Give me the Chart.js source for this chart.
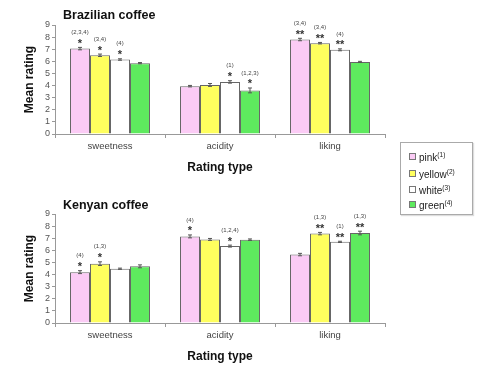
<!DOCTYPE html>
<html>
<head>
<meta charset="utf-8">
<script src="https://cdn.jsdelivr.net/npm/chart.js@4/dist/chart.umd.min.js"></script>
<style>
  html, body { margin: 0; padding: 0; background: #fff; }
  #wrap { position: relative; width: 481px; height: 370px; overflow: hidden; font-family: "Liberation Sans", Arial, sans-serif; }
  .panel { position: absolute; left: 0; width: 400px; height: 185px; }
  .panel canvas { position: absolute; left: 0; top: 0; }
  .ptitle { position: absolute; left: 63px; font-weight: bold; font-size: 12.5px; color: #111; line-height: 14px; }
  #legend { position: absolute; left: 400px; top: 142px; width: 71px; height: 71px; border: 1px solid #aaa; box-shadow: 1px 1px 1px #ddd; }
  .item { position: absolute; left: 8px; font-size: 10px; color: #222; line-height: 12px; white-space: nowrap; }
  .item i { display: inline-block; width: 5px; height: 5px; border: 1px solid #777; margin-right: 3px; vertical-align: 1px; }
  .item sup { font-size: 6.5px; vertical-align: 4px; line-height: 0; }
</style>
</head>
<body>
<div id="wrap">
  <div class="panel" style="top:0">
    <canvas id="brazil" width="400" height="185"></canvas>
    <div class="ptitle" style="top:8px">Brazilian coffee</div>
  </div>
  <div class="panel" style="top:189px">
    <canvas id="kenya" width="400" height="185"></canvas>
    <div class="ptitle" style="top:9px">Kenyan coffee</div>
  </div>
  <div id="legend"></div>
</div>
<script>
// ===== DATA =====
const categories = ['sweetness', 'acidity', 'liking'];
const seriesNames = ['pink', 'yellow', 'white', 'green'];
const seriesColors = ['#fbcbf5', '#ffff5e', '#ffffff', '#5eea5e'];
const yTicks = [0, 1, 2, 3, 4, 5, 6, 7, 8, 9];

// Brazilian coffee
const brazilPink = [7.05, 3.95, 7.8];
const brazilYellow = [6.5, 4.05, 7.5];
const brazilWhite = [6.15, 4.3, 6.95];
const brazilGreen = [5.85, 3.6, 5.95];
const brazilPinkErr = [0.1, 0.06, 0.1];
const brazilYellowErr = [0.1, 0.12, 0.06];
const brazilWhiteErr = [0.06, 0.1, 0.08];
const brazilGreenErr = [0.05, 0.2, 0.05];
const brazilPinkSig = ['(2,3,4)', '', '(3,4)'];
const brazilYellowSig = ['(3,4)', '', '(3,4)'];
const brazilWhiteSig = ['(4)', '(1)', '(4)'];
const brazilGreenSig = ['', '(1,2,3)', ''];
const brazilPinkStars = ['*', '', '**'];
const brazilYellowStars = ['*', '', '**'];
const brazilWhiteStars = ['*', '*', '**'];
const brazilGreenStars = ['', '*', ''];

// Kenyan coffee
const kenyaPink = [4.2, 7.15, 5.65];
const kenyaYellow = [4.9, 6.9, 7.38];
const kenyaWhite = [4.48, 6.35, 6.7];
const kenyaGreen = [4.68, 6.88, 7.43];
const kenyaPinkErr = [0.12, 0.12, 0.1];
const kenyaYellowErr = [0.15, 0.08, 0.1];
const kenyaWhiteErr = [0.05, 0.08, 0.05];
const kenyaGreenErr = [0.12, 0.06, 0.15];
const kenyaPinkSig = ['(4)', '(4)', ''];
const kenyaYellowSig = ['(1,3)', '', '(1,3)'];
const kenyaWhiteSig = ['', '(1,2,4)', '(1)'];
const kenyaGreenSig = ['', '', '(1,3)'];
const kenyaPinkStars = ['*', '*', ''];
const kenyaYellowStars = ['*', '', '**'];
const kenyaWhiteStars = ['', '*', '**'];
const kenyaGreenStars = ['', '', '**'];

// ===== LEGEND (html) =====
const legendEl = document.getElementById('legend');
const legendTops = [9, 26, 42, 57];
seriesNames.forEach((name, i) => {
    const div = document.createElement('div');
    div.className = 'item';
    div.style.top = legendTops[i] + 'px';
    div.innerHTML = '<i style="background:' + seriesColors[i] + '"></i>' + name + '<sup>(' + (i + 1) + ')</sup>';
    legendEl.appendChild(div);
});

// ===== ERROR BARS + SIGNIFICANCE MARKS =====
const markPlugin = {
    id: 'marks',
    afterDatasetsDraw(chart) {
        const ctx = chart.ctx;
        const yScale = chart.scales.y;
        chart.data.datasets.forEach((ds, i) => {
            const meta = chart.getDatasetMeta(i);
            meta.data.forEach((bar, j) => {
                const v = ds.data[j];
                const e = ds.errors[j];
                const yTop = yScale.getPixelForValue(v + e);
                const yBot = yScale.getPixelForValue(v - e);
                ctx.save();
                ctx.strokeStyle = '#555';
                ctx.lineWidth = 1;
                ctx.beginPath();
                ctx.moveTo(bar.x, yTop);
                ctx.lineTo(bar.x, yBot);
                ctx.moveTo(bar.x - 2, yTop);
                ctx.lineTo(bar.x + 2, yTop);
                ctx.moveTo(bar.x - 2, yBot);
                ctx.lineTo(bar.x + 2, yBot);
                ctx.stroke();

                ctx.textAlign = 'center';
                ctx.fillStyle = '#333';
                if (ds.stars[j]) {
                    // centre the asterisks about 6px above the error cap
                    ctx.font = 'bold 11px "Liberation Sans", Arial, sans-serif';
                    ctx.textBaseline = 'alphabetic';
                    const m = ctx.measureText(ds.stars[j]);
                    const centre = yTop - 6;
                    ctx.fillText(ds.stars[j], bar.x, centre + (m.actualBoundingBoxAscent - m.actualBoundingBoxDescent) / 2);
                }
                if (ds.sig[j]) {
                    ctx.font = '6px "Liberation Sans", Arial, sans-serif';
                    ctx.textBaseline = 'middle';
                    ctx.fillStyle = '#444';
                    ctx.fillText(ds.sig[j], bar.x, yTop - 15);
                }
                ctx.restore();
            });
        });
    }
};

function makeDatasets(values, errors, sigs, stars) {
    return values.map((vals, i) => ({
        label: seriesNames[i],
        data: vals,
        errors: errors[i],
        sig: sigs[i],
        stars: stars[i],
        backgroundColor: seriesColors[i],
        borderColor: '#666',
        borderWidth: 1,
        categoryPercentage: 0.727,
        barPercentage: 1.0
    }));
}

function buildChart(canvasId, datasets) {
    const ctx = document.getElementById(canvasId).getContext('2d');
    return new Chart(ctx, {
        type: 'bar',
        data: { labels: categories, datasets: datasets },
        plugins: [markPlugin],
        options: {
            responsive: false,
            animation: false,
            devicePixelRatio: 1,
            layout: { padding: { left: 18, right: 15, top: 25, bottom: 0 } },
            plugins: {
                legend: { display: false },
                tooltip: { enabled: false },
                title: { display: false }
            },
            scales: {
                x: {
                    afterFit(scale) { scale.height = 51; },
                    grid: { display: true, drawOnChartArea: false, offset: true, tickLength: 4, color: '#999' },
                    border: { color: '#999' },
                    ticks: {
                        color: '#444', padding: 3,
                        font: { family: '"Liberation Sans", Arial, sans-serif', size: 9.5 }
                    },
                    title: {
                        display: true, text: 'Rating type', color: '#111',
                        padding: { top: 4, bottom: 10 },
                        font: { family: '"Liberation Sans", Arial, sans-serif', size: 12, weight: 'bold' }
                    }
                },
                y: {
                    min: yTicks[0],
                    max: yTicks[yTicks.length - 1],
                    afterFit(scale) { scale.width = 37; },
                    afterBuildTicks(scale) { scale.ticks = yTicks.map(v => ({ value: v })); },
                    grid: { display: true, drawOnChartArea: false, tickLength: 3, color: '#999' },
                    border: { color: '#999' },
                    ticks: {
                        color: '#555', padding: 2, autoSkip: false, stepSize: 1,
                        font: { family: '"Liberation Sans", Arial, sans-serif', size: 9 }
                    },
                    title: {
                        display: true, text: 'Mean rating', color: '#111',
                        padding: { top: 4, bottom: 4 },
                        font: { family: '"Liberation Sans", Arial, sans-serif', size: 12, weight: 'bold' }
                    }
                }
            }
        }
    });
}

buildChart('brazil', makeDatasets(
    [brazilPink, brazilYellow, brazilWhite, brazilGreen],
    [brazilPinkErr, brazilYellowErr, brazilWhiteErr, brazilGreenErr],
    [brazilPinkSig, brazilYellowSig, brazilWhiteSig, brazilGreenSig],
    [brazilPinkStars, brazilYellowStars, brazilWhiteStars, brazilGreenStars]
));

buildChart('kenya', makeDatasets(
    [kenyaPink, kenyaYellow, kenyaWhite, kenyaGreen],
    [kenyaPinkErr, kenyaYellowErr, kenyaWhiteErr, kenyaGreenErr],
    [kenyaPinkSig, kenyaYellowSig, kenyaWhiteSig, kenyaGreenSig],
    [kenyaPinkStars, kenyaYellowStars, kenyaWhiteStars, kenyaGreenStars]
));
</script>
</body>
</html>
